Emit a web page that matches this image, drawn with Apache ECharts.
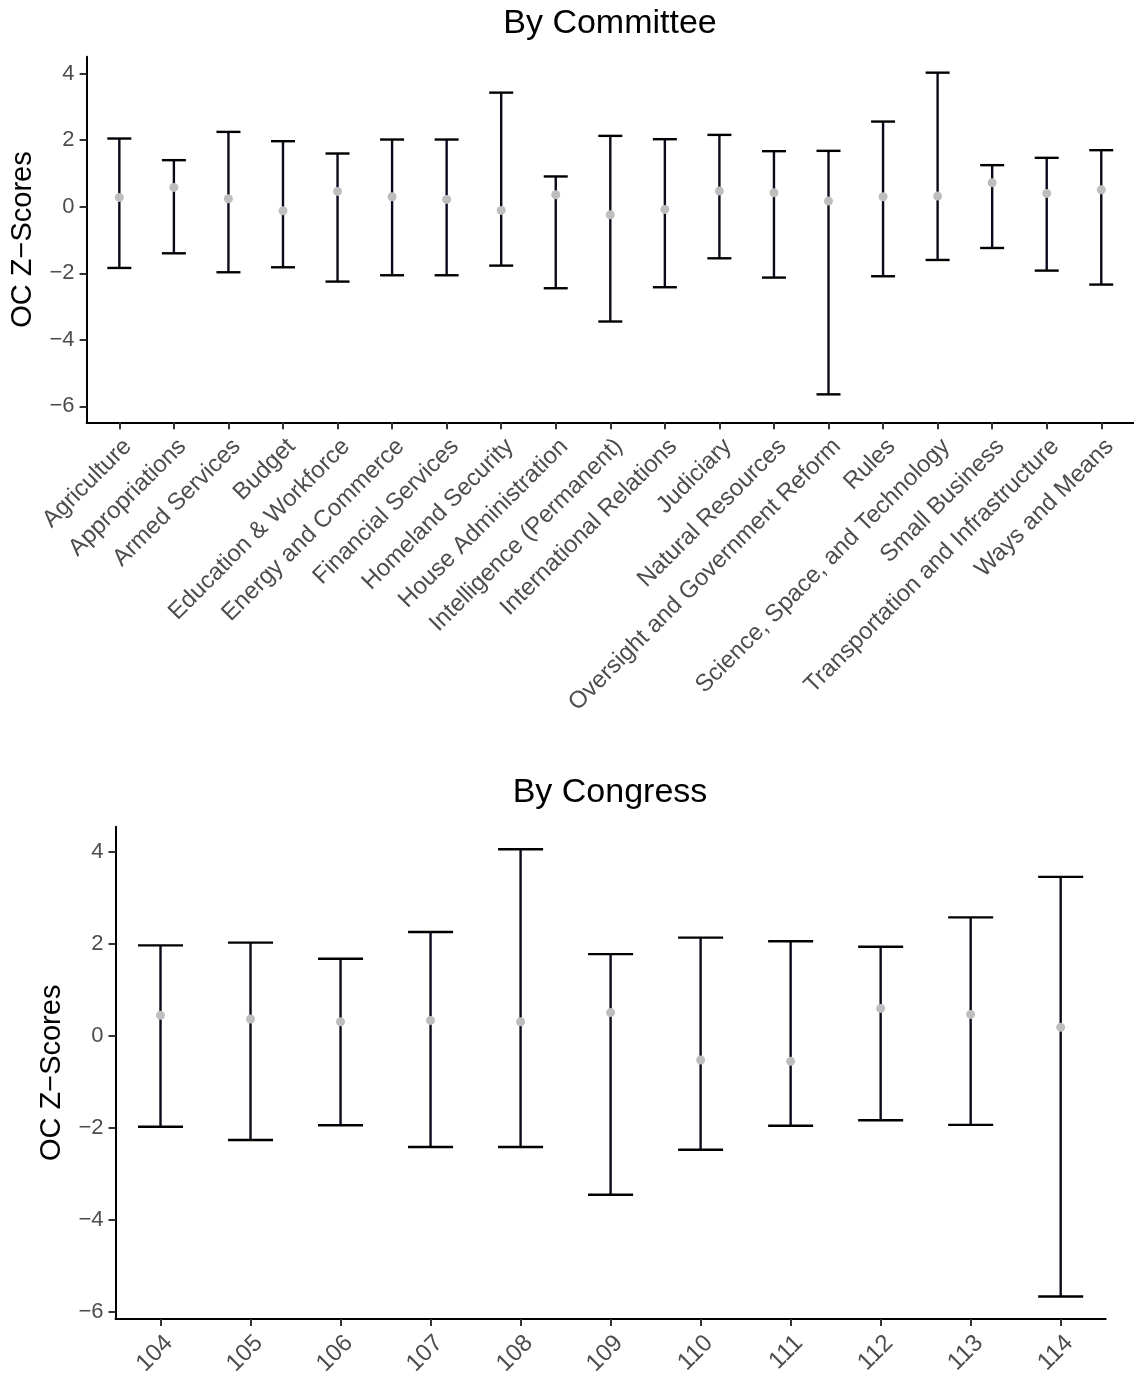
<!DOCTYPE html>
<html>
<head>
<meta charset="utf-8">
<title>OC Z-Scores</title>
<script src="https://cdn.jsdelivr.net/npm/echarts@6/dist/echarts.min.js"></script>
<style>
  html, body { margin: 0; padding: 0; background: #fff; }
  #chart { width: 1134px; height: 1373px; }
</style>
</head>
<body>
<div id="chart"></div>
<script>
// values
const committees = [
  'Agriculture', 'Appropriations', 'Armed Services', 'Budget',
  'Education & Workforce', 'Energy and Commerce', 'Financial Services',
  'Homeland Security', 'House Administration', 'Intelligence (Permanent)',
  'International Relations', 'Judiciary', 'Natural Resources',
  'Oversight and Government Reform', 'Rules', 'Science, Space, and Technology',
  'Small Business', 'Transportation and Infrastructure', 'Ways and Means'
];
const committeeMean = [0.28, 0.58, 0.24, -0.12, 0.46, 0.30, 0.22, -0.11, 0.36, -0.24,
  -0.08, 0.47, 0.42, 0.17, 0.30, 0.32, 0.72, 0.40, 0.51];
const committeeLow = [-1.84, -1.40, -1.97, -1.82, -2.25, -2.06, -2.06, -1.77, -2.45, -3.45,
  -2.42, -1.55, -2.13, -5.64, -2.09, -1.60, -1.24, -1.92, -2.34];
const committeeHigh = [2.05, 1.40, 2.25, 1.97, 1.60, 2.02, 2.02, 3.43, 0.91, 2.13,
  2.03, 2.16, 1.67, 1.68, 2.56, 4.03, 1.25, 1.47, 1.70];

const congresses = [104, 105, 106, 107, 108, 109, 110, 111, 112, 113, 114];
const congressMean = [0.44, 0.36, 0.30, 0.33, 0.30, 0.50, -0.53, -0.56, 0.59, 0.46, 0.18];
const congressLow = [-1.98, -2.27, -1.95, -2.42, -2.42, -3.46, -2.48, -1.96, -1.84, -1.94, -5.67];
const congressHigh = [1.96, 2.02, 1.67, 2.25, 4.05, 1.77, 2.13, 2.05, 1.93, 2.57, 3.45];

const yTicks = [-6, -4, -2, 0, 2, 4];

const FONT = '"Liberation Sans", Arial, Helvetica, sans-serif';
const TICK_COLOR = '#4d4d4d';

const chart = echarts.init(document.getElementById('chart'));

function minus(v) {
  return v < 0 ? '\u2212' + Math.abs(v) : String(v);
}

function errorBars(capWidth) {
  return function (params, api) {
    const x = api.value(0);
    const lo = api.coord([x, api.value(1)]);
    const hi = api.coord([x, api.value(2)]);
    const half = (api.coord([x + capWidth / 2, 0])[0] - api.coord([x, 0])[0]);
    const style = { stroke: '#000', lineWidth: 2.4 };
    return {
      type: 'group',
      children: [
        { type: 'line', shape: { x1: hi[0], y1: hi[1], x2: lo[0], y2: lo[1] },
          style: { stroke: '#0a0a1c', lineWidth: 2.4 } },
        { type: 'line', shape: { x1: hi[0] - half, y1: hi[1], x2: hi[0] + half, y2: hi[1] }, style },
        { type: 'line', shape: { x1: lo[0] - half, y1: lo[1], x2: lo[0] + half, y2: lo[1] }, style }
      ]
    };
  };
}

const axisLine = { show: true, onZero: false, lineStyle: { color: '#000', width: 2 } };
const axisTick = { show: true, length: 7, lineStyle: { color: '#333', width: 2 } };

const catIndex = committees.map((_, i) => i);

function yAxis(gridIndex, min, max) {
  return {
    type: 'value', gridIndex, min, max,
    name: 'OC Z\u2212Scores', nameLocation: 'middle', nameGap: 49,
    nameTextStyle: { color: '#000', fontSize: 29, fontFamily: FONT },
    axisLine,
    axisTick: Object.assign({ customValues: yTicks }, axisTick),
    splitLine: { show: false },
    axisLabel: {
      customValues: yTicks, margin: 12, color: TICK_COLOR, fontSize: 22, fontFamily: FONT,
      formatter: minus
    }
  };
}

function xLabel(values, formatter) {
  return {
    customValues: values, rotate: 45, margin: 12, verticalAlign: 'top',
    color: TICK_COLOR, fontSize: 24, fontFamily: FONT, formatter
  };
}

const option = {
  backgroundColor: '#fff',
  animation: false,
  graphic: [
    { type: 'text', x: 610, y: 24,
      style: { text: 'By Committee', fill: '#000', font: '34px ' + FONT, textAlign: 'center', textVerticalAlign: 'middle' } },
    { type: 'text', x: 610, y: 793,
      style: { text: 'By Congress', fill: '#000', font: '34px ' + FONT, textAlign: 'center', textVerticalAlign: 'middle' } }
  ],
  grid: [
    { left: 86.6, right: 0, top: 56.7, height: 365.6, outerBoundsMode: 'none' },
    { left: 115.5, right: 28.3, top: 826.7, height: 492.3, outerBoundsMode: 'none' }
  ],
  xAxis: [
    {
      type: 'value', gridIndex: 0, min: -0.6, max: committees.length - 0.4,
      axisLine, axisTick: Object.assign({ customValues: catIndex }, axisTick),
      splitLine: { show: false },
      axisLabel: xLabel(catIndex, v => committees[Math.round(v)])
    },
    {
      type: 'value', gridIndex: 1, min: 103.5, max: 114.5,
      axisLine, axisTick: Object.assign({ customValues: congresses }, axisTick),
      splitLine: { show: false },
      axisLabel: xLabel(congresses, v => String(v))
    }
  ],
  yAxis: [yAxis(0, -6.48, 4.51), yAxis(1, -6.16, 4.54)],
  series: [
    {
      type: 'custom', xAxisIndex: 0, yAxisIndex: 0,
      renderItem: errorBars(0.44),
      encode: { x: 0, y: [1, 2] },
      data: committees.map((_, i) => [i, committeeLow[i], committeeHigh[i]])
    },
    {
      type: 'scatter', xAxisIndex: 0, yAxisIndex: 0, symbolSize: 9, z: 5,
      itemStyle: { color: '#bebebe', opacity: 1 },
      data: committees.map((_, i) => [i, committeeMean[i]])
    },
    {
      type: 'custom', xAxisIndex: 1, yAxisIndex: 1,
      renderItem: errorBars(0.5),
      encode: { x: 0, y: [1, 2] },
      data: congresses.map((c, i) => [c, congressLow[i], congressHigh[i]])
    },
    {
      type: 'scatter', xAxisIndex: 1, yAxisIndex: 1, symbolSize: 9, z: 5,
      itemStyle: { color: '#bebebe', opacity: 1 },
      data: congresses.map((c, i) => [c, congressMean[i]])
    }
  ]
};

chart.setOption(option);
</script>
</body>
</html>
